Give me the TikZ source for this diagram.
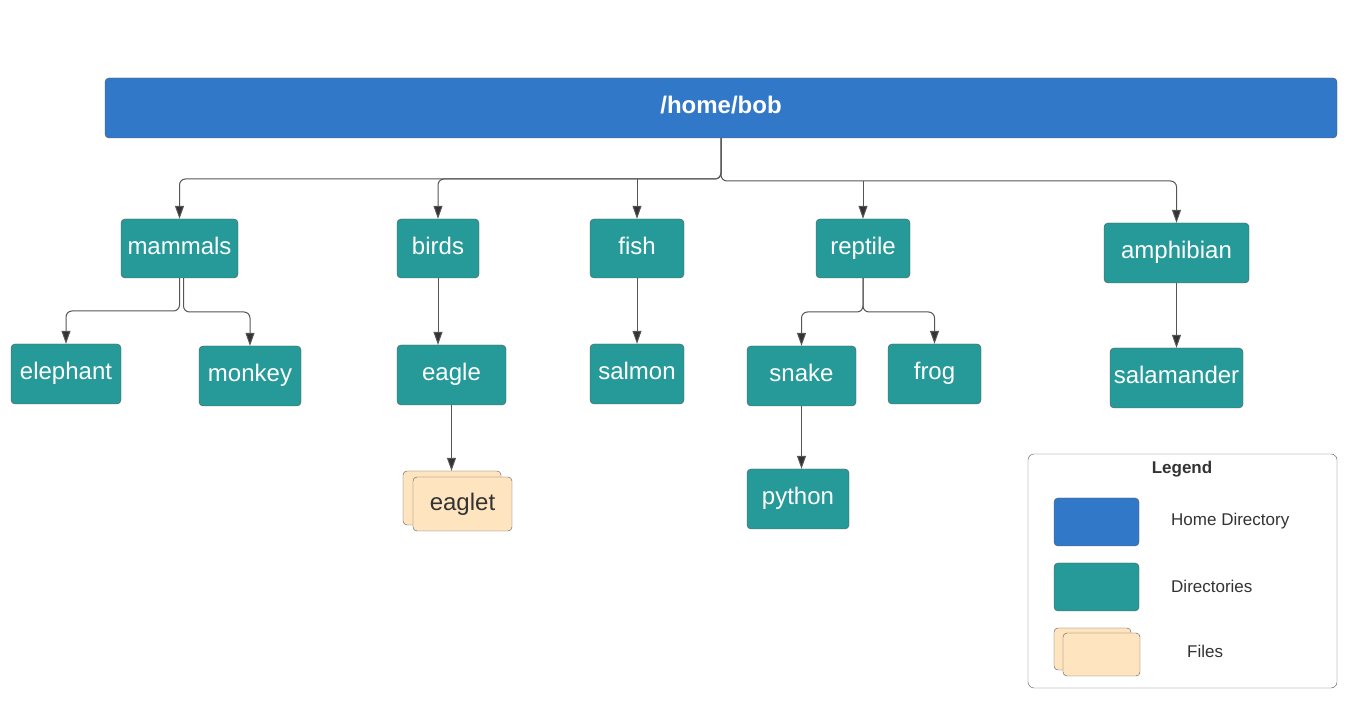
\documentclass[tikz,border=0pt]{standalone}
\usepackage{fontspec}
\setmainfont{Liberation Sans}
\usetikzlibrary{arrows.meta}
\definecolor{homeblue}{RGB}{50,120,200}
\definecolor{dirteal}{RGB}{38,154,152}
\definecolor{filepeach}{RGB}{255,229,191}
\definecolor{edgegray}{RGB}{85,85,85}
\definecolor{textgray}{RGB}{51,51,51}
\tikzset{
  homebox/.style={draw=edgegray,fill=homeblue,rounded corners=4bp,inner sep=0pt,text height=17bp,text depth=5bp,text=white,font=\fontsize{24bp}{28bp}\selectfont\bfseries},
  dirbox/.style={draw=edgegray,fill=dirteal,rounded corners=4bp,inner sep=0pt,minimum height=60bp,text height=17bp,text depth=5bp,text=white,font=\fontsize{24bp}{28bp}\selectfont},
  filebox/.style={draw=edgegray,fill=filepeach,rounded corners=4bp,inner sep=0pt,text=textgray,font=\fontsize{24bp}{28bp}\selectfont},
  legendtext/.style={text=textgray,inner sep=0pt,font=\fontsize{17bp}{20bp}\selectfont},
  conn/.style={draw=edgegray,line width=1bp,rounded corners=6bp,-{Triangle[width=9bp,length=13bp,fill=textgray]}},
}
\begin{document}
\begin{tikzpicture}[line join=bevel,]
\useasboundingbox (0bp,0bp) rectangle (1352bp,709bp);
%%
\node (node_home) at (721bp,601bp) [homebox,minimum width=1232bp,minimum height=60bp] {/home/bob};
%
\node (node_mammals) at (179.5bp,460.5bp) [dirbox,minimum width=117bp,minimum height=59bp] {mammals};
  \node (node_birds) at (438bp,460.5bp) [dirbox,minimum width=82bp,minimum height=59bp] {birds};
  \node (node_fish) at (637bp,460.5bp) [dirbox,minimum width=94bp,minimum height=59bp] {fish};
  \node (node_reptile) at (863bp,460.5bp) [dirbox,minimum width=94bp,minimum height=59bp] {reptile};
  \node (node_amphibian) at (1176.5bp,456bp) [dirbox,minimum width=145bp] {amphibian};
%
\node (node_elephant) at (66bp,335bp) [dirbox,minimum width=110bp] {elephant};
  \node (node_monkey) at (250bp,333bp) [dirbox,minimum width=102bp] {monkey};
  \node (node_eagle) at (451.5bp,334bp) [dirbox,minimum width=109bp] {eagle};
  \node (node_salmon) at (637bp,335bp) [dirbox,minimum width=94bp] {salmon};
  \node (node_snake) at (801.5bp,333bp) [dirbox,minimum width=109bp] {snake};
  \node (node_frog) at (934.5bp,335bp) [dirbox,minimum width=93bp] {frog};
  \node (node_salamander) at (1176.5bp,331bp) [dirbox,minimum width=133bp] {salamander};
  \node (node_python) at (798bp,210bp) [dirbox,minimum width=102bp] {python};
%
\node (node_eaglet_back) at (452bp,211bp) [filebox,minimum width=98bp,minimum height=54bp] {};
  \node (node_eaglet) at (462.5bp,205bp) [filebox,minimum width=99bp,minimum height=54bp] {eaglet};
%%
\coordinate (bus_left) at (721bp,530bp);
\coordinate (bus_right) at (721bp,528bp);
\coordinate (bus_mammals) at (179.5bp,398bp);
\coordinate (bus_reptile) at (863bp,397bp);
%
\draw [conn] (node_home.south) -- (bus_left) -| (node_mammals.north);
  \draw [conn] (node_home.south) -- (bus_left) -| (node_birds.north);
  \draw [conn] (node_fish.north |- bus_left) -- (node_fish.north);
  \draw [conn] (node_home.south) -- (bus_right) -| (node_amphibian.north);
  \draw [conn] (node_reptile.north |- bus_right) -- (node_reptile.north);
%
\draw [conn] (node_mammals.south) -- (bus_mammals) -| (node_elephant.north);
  \draw [conn] ([xshift=4bp]node_mammals.south) -- ([xshift=4bp,yshift=-1bp]bus_mammals) -| (node_monkey.north);
  \draw [conn] (node_reptile.south) -- (bus_reptile) -| (node_snake.north);
  \draw [conn] (node_reptile.south) -- (bus_reptile) -| (node_frog.north);
%
\draw [conn] (node_birds.south) -- (node_birds.south |- node_eagle.north);
  \draw [conn] (node_eagle.south) -- (node_eagle.south |- node_eaglet_back.north);
  \draw [conn] (node_fish.south) -- (node_salmon.north);
  \draw [conn] (node_snake.south) -- (node_snake.south |- node_python.north);
  \draw [conn] (node_amphibian.south) -- (node_salamander.north);
%% legend
\node (node_legend) at (1182.5bp,138bp) [draw=edgegray,rounded corners=6bp,minimum width=309bp,minimum height=234bp] {};
  \node (node_legend_title) at (1182bp,240bp) [legendtext,font=\fontsize{17bp}{20bp}\selectfont\bfseries] {Legend};
  \node (node_key_home) at (1096.5bp,187bp) [homebox,minimum width=85bp,minimum height=48bp] {};
  \node (node_key_dir) at (1096.5bp,122bp) [dirbox,minimum width=85bp,minimum height=48bp] {};
  \node (node_key_fileback) at (1092.5bp,60bp) [filebox,minimum width=77bp,minimum height=42bp] {};
  \node (node_key_file) at (1101.5bp,54.5bp) [filebox,minimum width=77bp,minimum height=43bp] {};
  \node (node_home_label) at (1171bp,188bp) [legendtext,anchor=west] {Home Directory};
  \node (node_dir_label) at (1171bp,123bp) [legendtext,anchor=west] {Directories};
  \node (node_file_label) at (1187bp,58bp) [legendtext,anchor=west] {Files};
%
\end{tikzpicture}
\end{document}
